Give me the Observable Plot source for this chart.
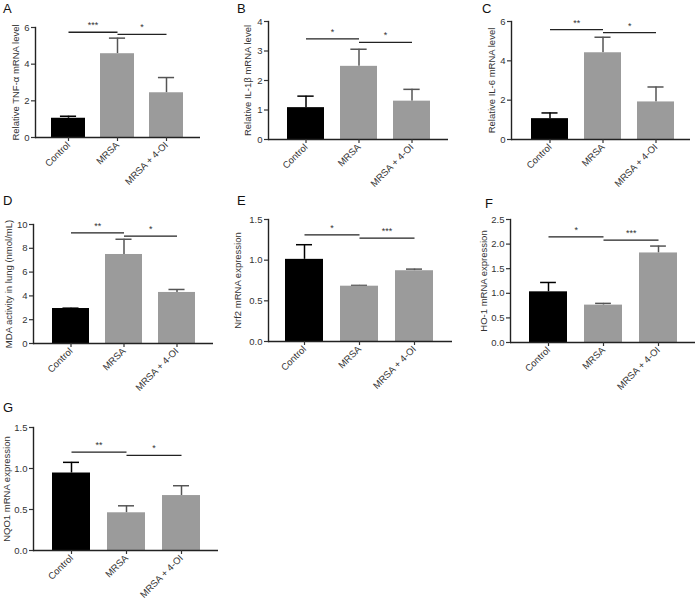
<!DOCTYPE html>
<html><head><meta charset="utf-8">
<script src="https://cdn.jsdelivr.net/npm/d3@7"></script>
<script src="https://cdn.jsdelivr.net/npm/@observablehq/plot@0.6"></script>
<style>
body{margin:0;background:#fff;}
#fig{position:relative;width:695px;height:605px;overflow:hidden;background:#fff;font-family:"Liberation Sans",Arial,Helvetica,sans-serif;}
.panel{position:absolute;}
.letter{position:absolute;font-size:13px;line-height:13px;color:#111;z-index:2;}
</style></head><body><div id="fig"></div>
<script>
const FONT = '"Liberation Sans", Arial, Helvetica, sans-serif';
const categories = ["Control", "MRSA", "MRSA + 4-OI"];

// Panel A: TNF-α
const tnfMean = [1.05, 4.57, 2.44];
const tnfErr  = [0.11, 0.85, 0.83];
const tnfSig  = [5.74, 5.62];
const tnfStars = ["***", "*"];
// Panel B: IL-1β
const il1Mean = [1.08, 2.48, 1.30];
const il1Err  = [0.39, 0.58, 0.40];
const il1Sig  = [3.41, 3.29];
const il1Stars = ["*", "*"];
// Panel C: IL-6
const il6Mean = [1.06, 4.41, 1.91];
const il6Err  = [0.29, 0.79, 0.76];
const il6Sig  = [5.59, 5.43];
const il6Stars = ["**", "*"];
// Panel D: MDA
const mdaMean = [2.94, 7.48, 4.29];
const mdaErr  = [0.03, 1.28, 0.25];
const mdaSig  = [9.29, 9.02];
const mdaStars = ["**", "*"];
// Panel E: Nrf2
const nrfMean = [1.01, 0.68, 0.87];
const nrfErr  = [0.18, 0.01, 0.02];
const nrfSig  = [1.31, 1.27];
const nrfStars = ["*", "***"];
// Panel F: HO-1
const hoMean = [1.03, 0.76, 1.82];
const hoErr  = [0.19, 0.035, 0.14];
const hoSig  = [2.145, 2.08];
const hoStars = ["*", "***"];
// Panel G: NQO1
const nqoMean = [0.945, 0.46, 0.67];
const nqoErr  = [0.13, 0.085, 0.12];
const nqoSig  = [1.20, 1.16];
const nqoStars = ["**", "*"];

const ticksA = [0, 2, 4, 6];
const ticksB = [0, 1, 2, 3, 4];
const ticksD = [0, 2, 4, 6, 8, 10];
const ticksE = [0, 0.5, 1.0, 1.5];
const ticksF = [0, 0.5, 1.0, 1.5, 2.0, 2.5];

const panels = [
  {letter:"A", lpos:[3,13], label:"Relative TNF-α mRNA level", mean:tnfMean, err:tnfErr, sig:tnfSig, stars:tnfStars, ymax:6, ticks:ticksA, fmt:d3.format("d"),
   box:[0,0,232,195], ax:[35,200], ay:[137,27], bars:[51,183], lo:23},
  {letter:"B", lpos:[237,13], label:"Relative IL-1β mRNA level", mean:il1Mean, err:il1Err, sig:il1Sig, stars:il1Stars, ymax:4, ticks:ticksB, fmt:d3.format("d"),
   box:[232,0,232,195], ax:[268,448], ay:[139,21], bars:[287,430], lo:24},
  {letter:"C", lpos:[482,13], label:"Relative IL-6 mRNA level", mean:il6Mean, err:il6Err, sig:il6Sig, stars:il6Stars, ymax:6, ticks:ticksA, fmt:d3.format("d"),
   box:[464,0,231,195], ax:[511,690], ay:[139,21], bars:[530,674], lo:23},
  {letter:"D", lpos:[3,205], label:"MDA activity in lung (nmol/mL)", mean:mdaMean, err:mdaErr, sig:mdaSig, stars:mdaStars, ymax:10, ticks:ticksD, fmt:d3.format("d"),
   box:[0,195,232,205], ax:[33,213], ay:[343,224], bars:[51,195], lo:28},
  {letter:"E", lpos:[237,205], label:"Nrf2 mRNA expression", mean:nrfMean, err:nrfErr, sig:nrfSig, stars:nrfStars, ymax:1.5, ticks:ticksE, fmt:d3.format(".1f"),
   box:[232,195,232,205], ax:[268,452], ay:[341,219], bars:[285,433], lo:34},
  {letter:"F", lpos:[485,208], label:"HO-1 mRNA expression", mean:hoMean, err:hoErr, sig:hoSig, stars:hoStars, ymax:2.5, ticks:ticksF, fmt:d3.format(".1f"),
   box:[464,195,231,205], ax:[510,695], ay:[342,219], bars:[528,677], lo:30},
  {letter:"G", lpos:[3,412], label:"NQO1 mRNA expression", mean:nqoMean, err:nqoErr, sig:nqoSig, stars:nqoStars, ymax:1.5, ticks:ticksE, fmt:d3.format(".1f"),
   box:[0,400,232,205], ax:[33,218], ay:[550,427], bars:[52,200], lo:30}
];

const fig = document.getElementById("fig");
const PI = 0.31;
const AX = "#222";

for (const p of panels) {
  const [bl, bt, bw, bh] = p.box;
  const data = categories.map((c, i) => ({cat: c, v: p.mean[i], e: p.err[i], top: p.mean[i] + p.err[i]}));
  const sig = [
    {a: categories[0], b: categories[1], y: p.sig[0], s: p.stars[0]},
    {a: categories[1], b: categories[2], y: p.sig[1], s: p.stars[1]}
  ];
  const step = (p.bars[1] - p.bars[0]) / (categories.length - PI);
  const bandw = step * (1 - PI);
  const capInset = (bandw - 16) / 2;
  const ctrl = d => d.cat === "Control";
  const other = d => d.cat !== "Control";
  const svg = Plot.plot({
    width: bw, height: bh,
    marginLeft: p.ax[0] - bl, marginRight: bl + bw - p.ax[1],
    marginTop: p.ay[1] - bt, marginBottom: bt + bh - p.ay[0],
    style: {fontFamily: FONT, fontSize: "9.5px", background: "transparent", overflow: "visible", color: AX},
    x: {type: "band", domain: categories, range: [p.bars[0] - bl, p.bars[1] - bl], paddingInner: PI, paddingOuter: 0},
    y: {domain: [0, p.ymax]},
    marks: [
      Plot.ruleX(data, {filter: ctrl, x: "cat", y1: "v", y2: "top", stroke: "#000", strokeWidth: 1.5}),
      Plot.ruleX(data, {filter: other, x: "cat", y1: "v", y2: "top", stroke: "#555", strokeWidth: 1.5}),
      Plot.tickY(data, {filter: ctrl, x: "cat", y: "top", stroke: "#000", strokeWidth: 1.5, insetLeft: capInset, insetRight: capInset}),
      Plot.tickY(data, {filter: other, x: "cat", y: "top", stroke: "#555", strokeWidth: 1.5, insetLeft: capInset, insetRight: capInset}),
      Plot.barY(data, {filter: ctrl, x: "cat", y: "v", fill: "#000"}),
      Plot.barY(data, {filter: other, x: "cat", y: "v", fill: "#9b9b9b"}),
      Plot.link(sig, {x1: "a", x2: "b", y1: "y", y2: "y", stroke: "#222", strokeWidth: 1.3}),
      Plot.text(sig, {x: "a", y: "y", text: "s", dx: step / 2, dy: -4, lineAnchor: "bottom", fontSize: 9, fill: "#333"}),
      Plot.ruleY([0], {stroke: AX, strokeWidth: 1.4}),
      Plot.frame({anchor: "left", stroke: AX, strokeWidth: 1.4}),
      Plot.axisY({ticks: p.ticks, tickFormat: p.fmt, tickSize: 4, tickPadding: 2, fontSize: 9.5, color: "#333", strokeWidth: 1.2,
        label: p.label, labelAnchor: "center", labelOffset: p.lo, labelArrow: "none"}),
      Plot.axisX({tickRotate: -45, tickSize: 4, tickPadding: 2, fontSize: 9.5, color: "#333", strokeWidth: 1.2, label: null})
    ]
  });
  const wrap = document.createElement("div");
  wrap.className = "panel";
  wrap.style.left = bl + "px";
  wrap.style.top = bt + "px";
  wrap.appendChild(svg);
  fig.appendChild(wrap);
  const L = document.createElement("div");
  L.className = "letter";
  L.textContent = p.letter;
  L.style.left = p.lpos[0] + "px";
  L.style.top = (p.lpos[1] - 11) + "px";
  fig.appendChild(L);
}
</script></body></html>
